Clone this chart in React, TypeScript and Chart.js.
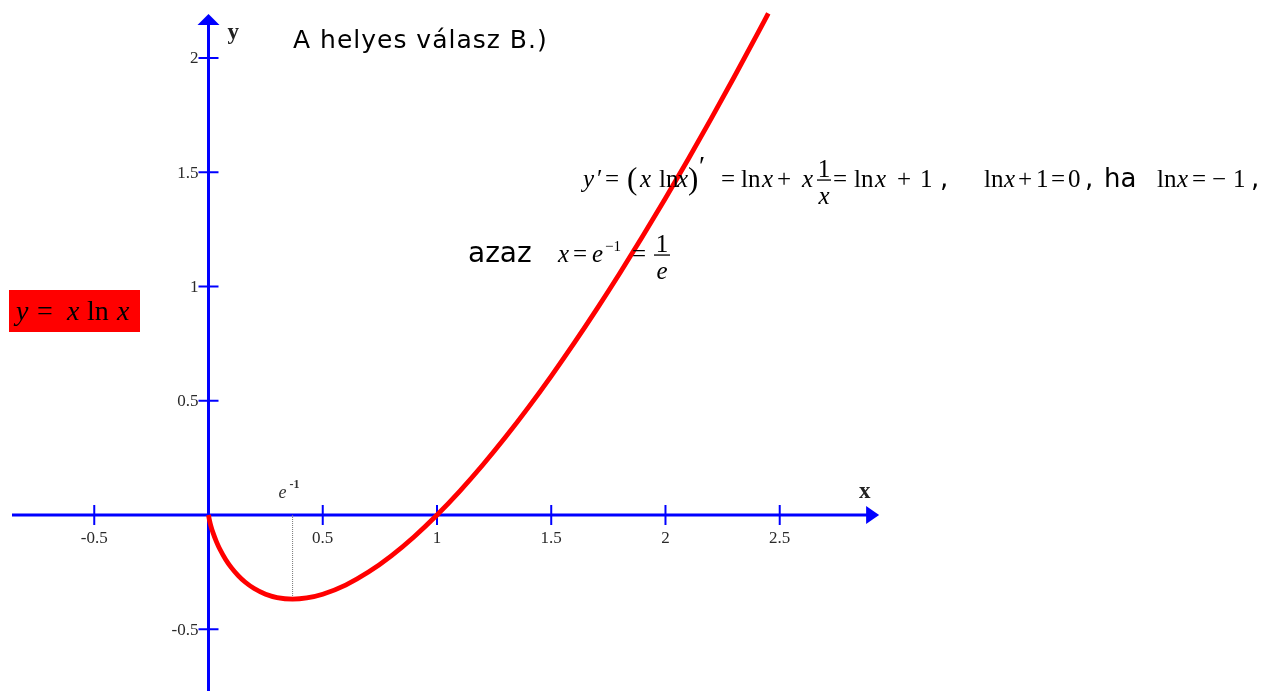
import React, { useEffect, useRef } from "react";
import { Chart, registerables } from "chart.js";

Chart.register(...registerables);

// Curve y = x ln x
const curveX = [0, 0.005, 0.01, 0.02, 0.035, 0.05, 0.075, 0.1, 0.13, 0.16, 0.2, 0.25, 0.3, 0.368, 0.43, 0.5, 0.6, 0.7, 0.8, 0.9, 1, 1.1, 1.2, 1.3, 1.4, 1.5, 1.6, 1.7, 1.8, 1.9, 2, 2.1, 2.2, 2.3, 2.4, 2.45];
const curveY = [0, -0.0265, -0.0461, -0.0782, -0.1173, -0.1498, -0.1943, -0.2303, -0.2652, -0.2932, -0.3219, -0.3466, -0.3612, -0.3679, -0.3629, -0.3466, -0.3065, -0.2497, -0.1785, -0.0948, 0, 0.1048, 0.2188, 0.3411, 0.4711, 0.6082, 0.752, 0.9021, 1.058, 1.2195, 1.3863, 1.5581, 1.7346, 1.9157, 2.1011, 2.1955];

// Minimum marker (dotted line at e^-1)
const markerX = [0.368, 0.368];
const markerY = [0, -0.368];

// Axis ticks
const xTickValues = [-0.5, 0.5, 1, 1.5, 2, 2.5];
const xTickLabels = ["-0.5", "0.5", "1", "1.5", "2", "2.5"];
const yTickValues = [-0.5, 0.5, 1, 1.5, 2];
const yTickLabels = ["-0.5", "0.5", "1", "1.5", "2"];

// Visible window and axis extents (data units)
const X_MIN = -0.9125;
const X_MAX = 4.672;
const Y_MIN = -0.7702;
const Y_MAX = 2.2538;
const X_AXIS_FROM = -0.86;
const X_AXIS_TO = 2.935;
const Y_AXIS_FROM = -0.78;
const Y_AXIS_TO = 2.193;

const SERIF = '"Liberation Serif", "Times New Roman", serif';
const SANS = '"DejaVu Sans", Verdana, sans-serif';

type Tok = [string, number, string, number?, number?];

function fontFor(kind: string, size: number) {
  if (kind === "i") return `italic ${size}px ${SERIF}`;
  if (kind === "s") return `${size}px ${SANS}`;
  return `${size}px ${SERIF}`;
}

function drawToks(ctx: CanvasRenderingContext2D, ox: number, oy: number, baseline: number, toks: Tok[], size: number) {
  ctx.textAlign = "left";
  ctx.textBaseline = "alphabetic";
  for (const t of toks) {
    const sz = t[4] ?? size;
    ctx.font = fontFor(t[2], sz);
    ctx.fillText(t[0], ox + t[1], oy + baseline + (t[3] ?? 0));
  }
}

function drawFrac(ctx: CanvasRenderingContext2D, ox: number, oy: number, cx: number, barY: number, halfW: number, num: string, numKind: string, den: string, denKind: string, size: number) {
  ctx.save();
  ctx.fillRect(ox + cx - halfW, oy + barY - 0.6, halfW * 2, 1.3);
  ctx.textAlign = "center";
  ctx.textBaseline = "alphabetic";
  ctx.font = fontFor(numKind, size);
  ctx.fillText(num, ox + cx, oy + barY - 3);
  ctx.font = fontFor(denKind, size);
  ctx.fillText(den, ox + cx, oy + barY + 24);
  ctx.restore();
}

const decor = {
  id: "decor",
  beforeDatasetsDraw(chart: any) {
    const ctx: CanvasRenderingContext2D = chart.ctx;
    const xs = chart.scales.x;
    const ys = chart.scales.y;
    const x0 = xs.getPixelForValue(0);
    const y0 = ys.getPixelForValue(0);
    const blue = "#0000ff";
    ctx.save();
    ctx.strokeStyle = blue;
    ctx.fillStyle = blue;
    ctx.lineWidth = 3;
    // x axis
    const xa = xs.getPixelForValue(X_AXIS_FROM);
    const xb = xs.getPixelForValue(X_AXIS_TO);
    ctx.beginPath();
    ctx.moveTo(xa, y0);
    ctx.lineTo(xb - 8, y0);
    ctx.stroke();
    ctx.beginPath();
    ctx.moveTo(xb, y0);
    ctx.lineTo(xb - 13, y0 - 9);
    ctx.lineTo(xb - 13, y0 + 9);
    ctx.closePath();
    ctx.fill();
    // y axis
    const ya = ys.getPixelForValue(Y_AXIS_FROM);
    const yb = ys.getPixelForValue(Y_AXIS_TO);
    ctx.beginPath();
    ctx.moveTo(x0, ya);
    ctx.lineTo(x0, yb + 8);
    ctx.stroke();
    ctx.beginPath();
    ctx.moveTo(x0, yb);
    ctx.lineTo(x0 - 11, yb + 11);
    ctx.lineTo(x0 + 11, yb + 11);
    ctx.closePath();
    ctx.fill();
    // ticks
    ctx.lineWidth = 2;
    for (const v of xTickValues) {
      const px = xs.getPixelForValue(v);
      ctx.beginPath();
      ctx.moveTo(px, y0 - 10);
      ctx.lineTo(px, y0 + 10);
      ctx.stroke();
    }
    for (const v of yTickValues) {
      const py = ys.getPixelForValue(v);
      ctx.beginPath();
      ctx.moveTo(x0 - 10, py);
      ctx.lineTo(x0 + 10, py);
      ctx.stroke();
    }
    // tick labels
    ctx.fillStyle = "#2a2a2a";
    ctx.font = `17px ${SERIF}`;
    ctx.textAlign = "center";
    ctx.textBaseline = "alphabetic";
    xTickValues.forEach((v, i) => {
      ctx.fillText(xTickLabels[i], xs.getPixelForValue(v), y0 + 28);
    });
    ctx.textAlign = "right";
    ctx.textBaseline = "middle";
    yTickValues.forEach((v, i) => {
      ctx.fillText(yTickLabels[i], x0 - 10, ys.getPixelForValue(v) + 1);
    });
    // axis names
    ctx.fillStyle = "#222222";
    ctx.font = `bold 23px ${SERIF}`;
    ctx.textAlign = "left";
    ctx.textBaseline = "alphabetic";
    ctx.fillText("y", x0 + 19, yb + 25);
    ctx.fillText("x", xb - 20, y0 - 17);
    // e^-1 label
    const mx = xs.getPixelForValue(markerX[0]);
    ctx.fillStyle = "#333333";
    ctx.font = `italic 18px ${SERIF}`;
    ctx.fillText("e", mx - 14, y0 - 17);
    ctx.font = `bold 12px ${SERIF}`;
    ctx.fillText("-1", mx - 3, y0 - 27);
    ctx.restore();
  },
  afterDatasetsDraw(chart: any) {
    const ctx: CanvasRenderingContext2D = chart.ctx;
    const ox = chart.chartArea.left;
    const oy = chart.chartArea.top;
    ctx.save();
    ctx.fillStyle = "#000000";
    // Title
    ctx.font = `25px ${SANS}`;
    (ctx as any).letterSpacing = "1px";
    ctx.textAlign = "left";
    ctx.textBaseline = "alphabetic";
    ctx.fillText("A helyes válasz B.)", ox + 293, oy + 48);
    (ctx as any).letterSpacing = "0px";

    // Line 1
    const S = 25;
    const b1 = 187;
    drawToks(ctx, ox, oy, b1, [["ha", 1104, "s", 0, 26]], S);
    drawToks(ctx, ox, oy, 262, [["azaz", 468, "s", 0, 28]], S);
    const line1: Tok[] = [
      ["y", 583, "i"], ["′", 597, "r"], ["=", 605, "r"], ["(", 627, "r", 2, 31],
      ["x", 640, "i"], ["ln", 659, "r"], ["x", 677, "i"], [")", 688, "r", 2, 31], ["′", 699, "r", -12, 28],
      ["=", 721, "r"], ["ln", 741, "r"], ["x", 762, "i"], ["+", 777, "r"], ["x", 802, "i"],
      ["=", 833, "r"], ["ln", 854, "r"], ["x", 875, "i"], ["+", 897, "r"], ["1", 920, "r"], [",", 940, "s", 0, 26],
      ["ln", 984, "r"], ["x", 1004, "i"], ["+", 1018, "r"], ["1", 1036, "r"], ["=", 1051, "r"], ["0", 1068, "r"], [",", 1085, "s", 0, 26],
      ["ln", 1157, "r"], ["x", 1177, "i"], ["=", 1192, "r"], ["−", 1212, "r"], ["1", 1233, "r"], [",", 1251, "s", 0, 26],
    ];
    drawToks(ctx, ox, oy, b1, line1, S);
    drawFrac(ctx, ox, oy, 824, b1 - 7, 7, "1", "r", "x", "i", S);

    // Line 2
    const b2 = 262;
    const line2: Tok[] = [
      ["x", 558, "i"], ["=", 573, "r"], ["e", 592, "i"], ["−1", 605, "r", -11, 15], ["=", 632, "r"],
    ];
    drawToks(ctx, ox, oy, b2, line2, S);
    drawFrac(ctx, ox, oy, 662, b2 - 7, 8, "1", "r", "e", "i", S);

    // Red label box
    ctx.fillStyle = "#ff0000";
    ctx.fillRect(ox + 9, oy + 290, 131, 42);
    ctx.fillStyle = "#000000";
    const lab: Tok[] = [["y", 16, "i"], ["=", 37, "r"], ["x", 67, "i"], ["ln", 87, "r"], ["x", 117, "i"]];
    drawToks(ctx, ox, oy, 320, lab, 28);
    ctx.restore();
  },
};

export default function App() {
  const ref = useRef<HTMLCanvasElement | null>(null);
  useEffect(() => {
    if (!ref.current) return;
    const chart = new Chart(ref.current, {
      type: "scatter",
      data: {
        datasets: [
          {
            data: curveX.map((x, i) => ({ x, y: curveY[i] })),
            showLine: true,
            borderColor: "#ff0000",
            borderWidth: 4.8,
            pointRadius: 0,
            cubicInterpolationMode: "monotone",
            fill: false,
          },
          {
            data: markerX.map((x, i) => ({ x, y: markerY[i] })),
            showLine: true,
            borderColor: "#777777",
            borderWidth: 1,
            borderDash: [1, 1],
            pointRadius: 0,
            fill: false,
          },
        ],
      },
      options: {
        responsive: false,
        animation: false,
        devicePixelRatio: 1,
        layout: { padding: 0 },
        plugins: { legend: { display: false }, tooltip: { enabled: false }, title: { display: false } },
        scales: {
          x: { type: "linear", min: X_MIN, max: X_MAX, display: false },
          y: { type: "linear", min: Y_MIN, max: Y_MAX, display: false },
        },
      },
      plugins: [decor],
    } as any);
    return () => chart.destroy();
  }, []);
  return (
    <div style={{ position: "absolute", left: 0, top: 0, width: 1276, height: 691, background: "#ffffff" }}>
      <canvas ref={ref} width={1276} height={691} style={{ display: "block", width: 1276, height: 691 }} />
    </div>
  );
}
